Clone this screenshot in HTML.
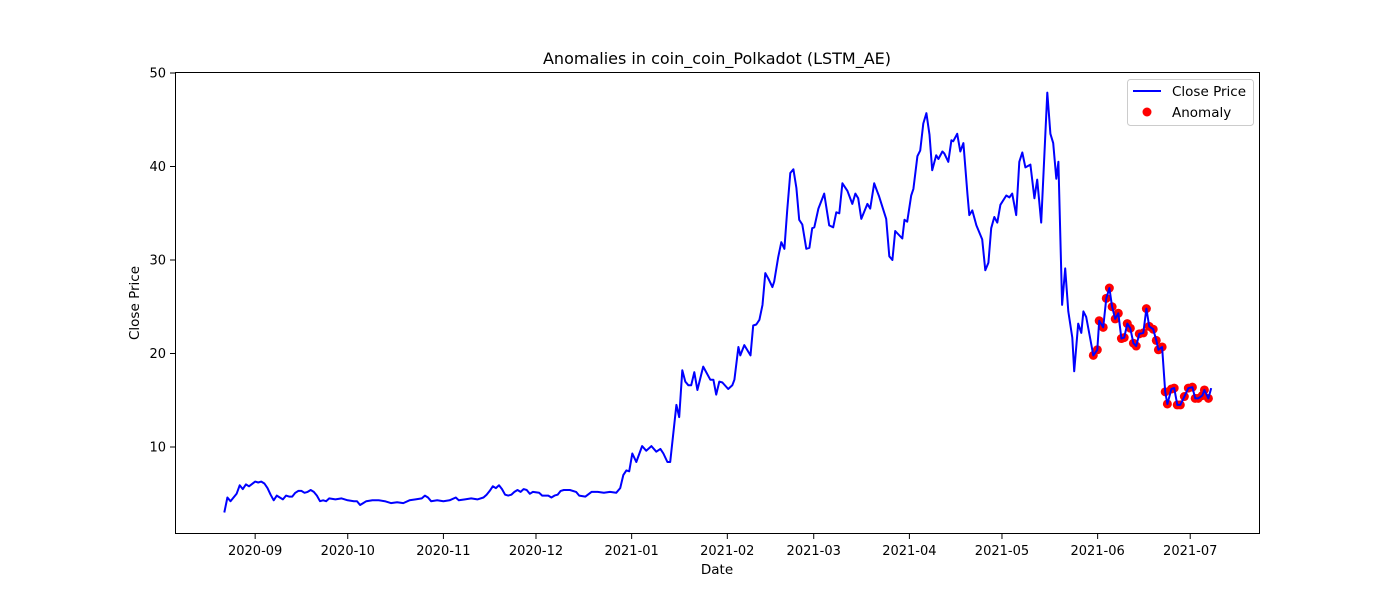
<!DOCTYPE html>
<html><head><meta charset="utf-8"><style>
body{margin:0;background:#fff;font-family:"Liberation Sans","DejaVu Sans",sans-serif;}
svg text{font-family:"DejaVu Sans","Liberation Sans",sans-serif;fill:#000;}
</style></head><body>
<svg id="chart" width="1400" height="600" viewBox="0 0 1400 600" xmlns="http://www.w3.org/2000/svg">
<rect width="1400" height="600" fill="#fff"/>
<text x="717" y="64" font-size="16" text-anchor="middle">Anomalies in coin_coin_Polkadot (LSTM_AE)</text>
<text x="717" y="574" font-size="13.5" text-anchor="middle">Date</text>
<text x="139" y="303" font-size="13.5" text-anchor="middle" transform="rotate(-90 139 303)">Close Price</text>
<g id="ticks"></g>
<g id="series"></g>
<rect x="175.5" y="72.5" width="1084" height="461" fill="none" stroke="#000" stroke-width="1"/>
<g>
<rect x="1127.5" y="79.5" width="126" height="46" rx="3" fill="#fff" fill-opacity="0.8" stroke="#ccc"/>
<line x1="1133" y1="91" x2="1161" y2="91" stroke="#0000ff" stroke-width="2"/>
<text x="1172" y="96" font-size="13.5">Close Price</text>
<circle cx="1147" cy="112" r="4.5" fill="#ff0000"/>
<text x="1172" y="117" font-size="13.5">Anomaly</text>
</g>
</svg>
<script>
// days since 2020-08-22
const days = [0,1,2,4,5,6,7,8,10,11,12,13,14,15,16,17,18,19,20,21,22,23,24,25,26,27,28,29,30,31,32,33,34,36,38,40,42,43,44,45,46,48,50,52,54,56,58,60,62,64,65,66,67,69,71,73,75,76,78,80,82,84,85,86,87,88,89,90,91,92,93,94,95,96,97,98,99,100,102,103,105,106,107,108,109,110,112,114,115,117,119,121,123,125,127,128.3,129.3,130.3,131.2,132.2,133.5,135.4,136.7,138.4,140,141.3,142.3,143.6,144.5,146.5,147.4,148.4,149.4,150.4,151.3,152.3,153.3,155.2,157.5,158.5,159.4,160.4,161.4,163.3,164.6,165.3,166.6,167.2,168.5,170.5,171.4,172.4,173.4,174.4,175.3,176.3,177.6,178.2,179.5,180.5,181.5,182.4,183.4,184.4,185.4,186.3,187.3,188.6,189.6,190.5,191.2,192.5,194.4,196,197.3,198.3,199.3,200.3,201.9,203.5,204.5,205.4,206.4,208.4,209.3,210.6,211.6,212.2,214.5,215.5,216.5,217.4,219.7,220.4,221.3,222.6,223.3,224.6,225.5,226.5,227.5,228.5,229.4,230.7,231.4,232.7,233.3,234.6,235.6,236.2,237.5,238.5,239.5,240.8,241.4,242.4,243.7,245.6,246.6,247.6,248.5,249.5,250.5,251.5,253.4,254.4,255.3,256.6,257.6,258.6,259.6,261.2,262.5,263.4,264.7,266.7,267.7,268.6,269.6,270.3,271.5,272.5,273.5,274.8,275.4,276.7,277.7,278.4,279.3,280.6,281.6,282.9,283.5,284.8,285.8,286.8,287.7,288.7,289.7,290.7,291.6,292.6,293.6,294.6,295.5,296.5,297.8,298.8,299.7,301.0,302.0,302.7,303.9,304.9,305.6,306.9,307.8,308.8,309.8,311.1,312.4,313.7,314.6,315.6,316.9,317.6,318.9,319.8];
const prices = [3.0,4.6,4.2,5.0,5.9,5.5,6.0,5.8,6.3,6.2,6.3,6.1,5.6,4.9,4.3,4.8,4.6,4.4,4.8,4.7,4.7,5.1,5.3,5.3,5.1,5.2,5.4,5.2,4.8,4.2,4.3,4.2,4.5,4.4,4.5,4.3,4.2,4.2,3.8,4.0,4.2,4.3,4.3,4.2,4.0,4.1,4.0,4.3,4.4,4.5,4.8,4.6,4.2,4.3,4.2,4.3,4.6,4.3,4.4,4.5,4.4,4.6,4.9,5.3,5.8,5.6,5.9,5.5,4.9,4.8,4.9,5.2,5.4,5.2,5.5,5.4,5.0,5.2,5.1,4.8,4.8,4.6,4.8,4.9,5.3,5.4,5.4,5.2,4.8,4.7,5.2,5.2,5.1,5.2,5.1,5.6,7.0,7.5,7.4,9.3,8.4,10.1,9.6,10.1,9.5,9.8,9.3,8.4,8.4,14.5,13.2,18.2,17.0,16.6,16.6,18.0,16.1,18.6,17.2,17.2,15.6,17.0,16.9,16.2,16.6,17.2,20.7,19.8,20.9,19.8,23.0,23.1,23.6,25.2,28.6,28.0,27.1,27.7,30.3,31.9,31.2,35.3,39.3,39.7,37.7,34.3,33.8,31.2,31.3,33.4,33.5,35.5,37.1,33.7,33.5,35.1,35.0,38.2,37.4,36.0,37.1,36.6,34.4,36.0,35.5,38.2,37.3,36.8,34.4,30.4,30.0,33.1,32.3,34.3,34.1,36.9,37.6,41.1,41.7,44.6,45.7,43.4,39.6,41.2,40.8,41.6,41.4,40.5,42.8,42.7,43.5,41.6,42.5,37.1,34.8,35.3,33.7,32.2,28.9,29.7,33.4,34.6,34.0,35.9,36.9,36.7,37.1,34.8,40.5,41.5,39.9,40.2,36.6,38.6,34.0,47.9,43.5,42.5,38.7,40.5,25.2,29.1,24.5,21.7,18.1,23.2,22.2,24.5,23.9,21.6,19.8,20.4,23.5,22.8,25.9,27.0,25.0,23.7,24.3,21.6,21.7,23.2,22.7,21.1,20.8,22.1,22.2,24.8,22.9,22.6,21.4,20.4,20.7,15.9,14.6,16.2,16.3,14.5,14.5,15.4,16.3,16.4,15.2,15.2,15.5,16.1,15.2,16.3];
const anomalyStart = 281.6;
const xTickDays = [10,40,71,101,132,163,191,222,252,283,313];
const xTickLabels = ["2020-09","2020-10","2020-11","2020-12","2021-01","2021-02","2021-03","2021-04","2021-05","2021-06","2021-07"];
const yTickValues = [10,20,30,40,50];

const NS="http://www.w3.org/2000/svg";
function xs(d){return 224.3 + d*3.086;}
function ys(v){return 540.5 - v*9.35;}
const tg=document.getElementById('ticks');
xTickDays.forEach((d,i)=>{
  const x=xs(d);
  const l=document.createElementNS(NS,'line');
  l.setAttribute('x1',x);l.setAttribute('x2',x);l.setAttribute('y1',534);l.setAttribute('y2',539);
  l.setAttribute('stroke','#000');
  
  
  tg.appendChild(l);
  const t=document.createElementNS(NS,'text');
  t.setAttribute('x',x);t.setAttribute('y',555);t.setAttribute('font-size','13');t.setAttribute('text-anchor','middle');
  t.textContent=xTickLabels[i];
  
  
  tg.appendChild(t);
});
yTickValues.forEach(v=>{
  const y=ys(v);
  const l=document.createElementNS(NS,'line');
  l.setAttribute('x1',170);l.setAttribute('x2',175);l.setAttribute('y1',y);l.setAttribute('y2',y);
  l.setAttribute('stroke','#000');
  
  
  tg.appendChild(l);
  const t=document.createElementNS(NS,'text');
  t.setAttribute('x',166);t.setAttribute('y',y+4.5);t.setAttribute('font-size','13');t.setAttribute('text-anchor','end');
  t.textContent=v;
  
  
  tg.appendChild(t);
});
const sg=document.getElementById('series');
const p=document.createElementNS(NS,'polyline');
p.setAttribute('points',days.map((d,i)=>xs(d).toFixed(1)+','+ys(prices[i]).toFixed(1)).join(' '));
p.setAttribute('fill','none');p.setAttribute('stroke','#0000ff');p.setAttribute('stroke-width','2');p.setAttribute('stroke-linejoin','round');


const dots=document.createElementNS(NS,'g');
days.forEach((d,i)=>{
  if(d<anomalyStart||i===days.length-1) return;
  const c=document.createElementNS(NS,'circle');
  c.setAttribute('cx',xs(d));c.setAttribute('cy',ys(prices[i]));c.setAttribute('r','4.5');c.setAttribute('fill','#ff0000');
  
  
  dots.appendChild(c);
});
sg.appendChild(dots);
sg.appendChild(p);
</script>
</body></html>
